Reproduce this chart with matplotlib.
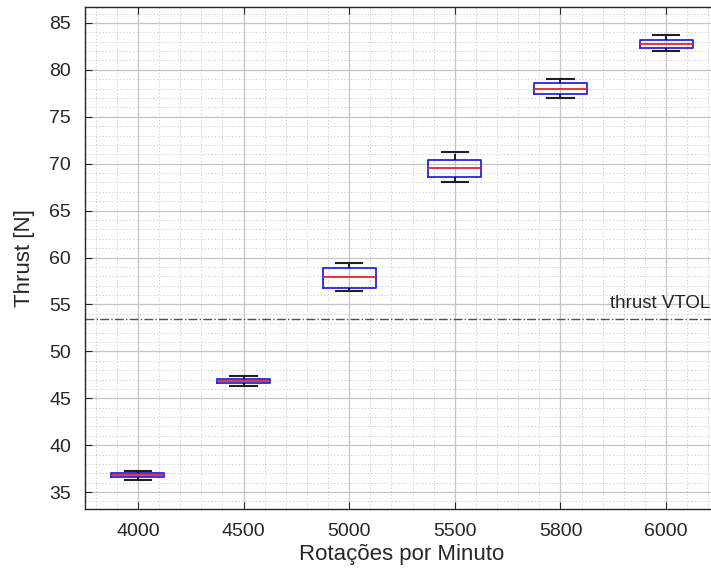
import matplotlib
matplotlib.use("Agg")
from matplotlib import pyplot as plt
from matplotlib.ticker import MultipleLocator

plt.rcParams['font.family'] = ['Liberation Sans', 'DejaVu Sans']

rpm_labels = ['4000', '4500', '5000', '5500', '5800', '6000']
# box statistics (N)
whis_lo = [36.25, 46.3, 56.4, 68.0, 76.95, 82.0]
q1 = [36.6, 46.6, 56.8, 68.6, 77.4, 82.35]
median = [36.8, 46.85, 57.9, 69.5, 78.0, 82.8]
q3 = [37.0, 47.1, 58.9, 70.35, 78.6, 83.2]
whis_hi = [37.25, 47.4, 59.4, 71.25, 79.05, 83.7]
thrust_vtol = 53.4

stats = []
for i in range(len(rpm_labels)):
	stats.append({'whislo': whis_lo[i], 'q1': q1[i], 'med': median[i],
		'q3': q3[i], 'whishi': whis_hi[i], 'fliers': []})

fig = plt.figure(figsize=(7.11, 5.76), dpi=100)
ax = fig.add_axes([85/711, 1-509/576, (719-85)/711, (509-7)/576])

ax.bxp(stats, positions=range(1, 7), widths=0.5, showfliers=False,
	boxprops=dict(color='#2525e0', linewidth=1.3),
	medianprops=dict(color='#e8232a', linewidth=1.3),
	whiskerprops=dict(color='black', linewidth=1.2, linestyle='--'),
	capprops=dict(color='#202020', linewidth=1.5), capwidths=0.25)

ax.axhline(thrust_vtol, color='#505050', linestyle='-.', linewidth=1.0)
ax.text(5.47, thrust_vtol + 0.75, 'thrust VTOL', ha='left', va='bottom', fontsize=13.5, color='#262626')

ax.set_xlim(0.5, 6.5)
ax.set_ylim(33.2, 86.7)
ax.set_xticks(range(1, 7))
ax.set_xticklabels(rpm_labels)
ax.yaxis.set_major_locator(MultipleLocator(5))
ax.yaxis.set_minor_locator(MultipleLocator(1))
ax.xaxis.set_minor_locator(MultipleLocator(0.2))

ax.grid(which='major', color='#c4c4c4', linewidth=0.9)
ax.grid(which='minor', color='#d2d2d2', linewidth=0.7, linestyle=(0, (1.5, 2)))
ax.set_axisbelow(True)

ax.tick_params(which='major', direction='in', length=5, labelsize=14, colors='#262626', top=True, right=True)
ax.tick_params(axis='x', pad=10)
ax.tick_params(axis='y', pad=10)
ax.tick_params(which='minor', length=0)
for s in ax.spines.values():
	s.set_color('#262626')
	s.set_linewidth(1.0)

ax.set_xlabel('Rotações por Minuto', fontsize=16, color='#262626', labelpad=3)
ax.set_ylabel('Thrust [N]', fontsize=16, color='#262626', labelpad=10)

plt.savefig('out.png', dpi=100)
